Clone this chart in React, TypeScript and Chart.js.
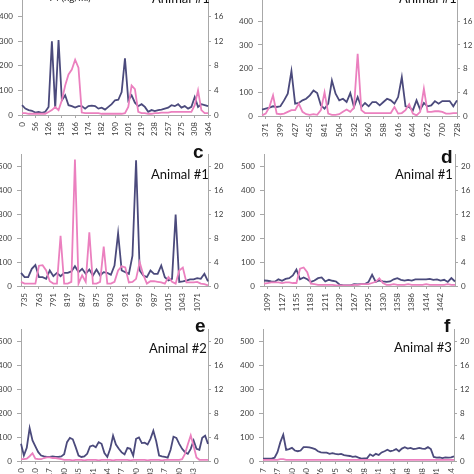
import React, { useEffect, useRef } from "react";
import { Chart, registerables } from "chart.js";
Chart.register(...registerables);

const NAVY = "#4b4a7c";
const PINK = "#eb80bf";
const AXIS = "#a8a8a8";
const TICK_TEXT = "#404040";

// ---------- Panel a (Animal #1) ----------
const aTicks = ["0", "56", "126", "158", "166", "174", "182", "190", "201", "219", "238", "257", "275", "308", "364"];
const aNavy = [40, 26, 20, 17, 10, 13, 9, 13, 33, 300, 26, 305, 60, 80, 40, 36, 30, 36, 36, 26, 36, 38, 36, 26, 30, 22, 33, 44, 60, 62, 93, 231, 60, 80, 50, 36, 44, 33, 13, 20, 16, 20, 22, 26, 30, 40, 36, 44, 30, 36, 26, 33, 73, 33, 44, 40, 36];
const aPink = [0.3, 0.3, 0.2, 0.2, 0.2, 0.2, 0.2, 0.2, 0.5, 0.8, 1.3, 0.8, 2.4, 4.8, 6.6, 7.4, 9.0, 7.7, 0.4, 0.3, 0.3, 0.3, 0.3, 0.3, 0.2, 0.2, 0.2, 0.2, 0.2, 0.2, 0.2, 0.3, 1.3, 4.8, 4.2, 0.5, 0.3, 0.3, 0.2, 0.2, 0.3, 0.3, 0.4, 0.4, 0.4, 0.5, 0.5, 0.5, 0.5, 0.5, 0.5, 0.5, 1.6, 4.0, 0.8, 0.3, 0.3];

// ---------- Panel b (Animal #1) ----------
const bTicks = ["371", "399", "427", "455", "841", "504", "532", "560", "588", "616", "644", "672", "700", "728"];
const bNavy = [27, 31, 35, 41, 38, 41, 66, 94, 190, 52, 55, 66, 73, 87, 108, 97, 45, 31, 52, 150, 94, 66, 73, 59, 97, 38, 80, 38, 55, 41, 59, 59, 45, 59, 73, 66, 52, 80, 164, 41, 38, 24, 66, 27, 55, 41, 45, 63, 52, 63, 63, 63, 41, 66];
const bPink = [0.1, 0.4, 1.5, 3.5, 0.4, 0.3, 0.4, 0.7, 1.0, 1.0, 2.1, 0.7, 0.3, 0.2, 0.3, 0.2, 1.0, 4.0, 0.4, 0.2, 0.2, 0.3, 0.7, 1.1, 0.7, 1.4, 10.5, 1.0, 0.5, 0.5, 0.5, 0.5, 0.5, 0.5, 0.5, 0.5, 1.5, 0.4, 0.5, 1.0, 2.0, 0.4, 0.1, 0.7, 4.6, 0.7, 0.7, 0.8, 0.8, 0.7, 0.4, 0.4, 0.5, 0.5];

// ---------- Panel c (Animal #1) ----------
const cTicks = ["735", "763", "791", "819", "847", "875", "903", "931", "959", "987", "1015", "1043", "1071"];
const cNavy = [55, 37, 37, 72, 88, 37, 37, 30, 65, 41, 55, 41, 55, 55, 61, 83, 58, 72, 51, 69, 44, 69, 44, 58, 55, 47, 86, 221, 65, 58, 51, 127, 527, 65, 44, 37, 65, 51, 51, 86, 37, 23, 30, 300, 17, 19, 23, 28, 28, 33, 30, 51, 19];
const cPink = [0.7, 0.4, 0.4, 0.4, 0.4, 3.4, 3.5, 2.6, 0.8, 0.4, 0.4, 8.4, 0.4, 0.4, 0.7, 21.2, 0.4, 1.8, 0.7, 9.0, 0.4, 0.4, 0.7, 6.6, 0.4, 0.4, 0.7, 2.6, 3.3, 3.1, 0.6, 0.7, 1.2, 4.0, 1.9, 0.4, 0.8, 0.8, 0.7, 0.6, 0.4, 1.5, 0.7, 0.4, 2.6, 3.1, 0.6, 0.6, 0.6, 0.7, 0.4, 0.3, 0.1];

// ---------- Panel d (Animal #1) ----------
const dTicks = ["1099", "1127", "1155", "1183", "1211", "1239", "1267", "1295", "1330", "1358", "1386", "1414", "1442"];
const dNavy = [23, 22, 19, 18, 28, 22, 30, 33, 44, 69, 28, 36, 28, 17, 23, 33, 36, 19, 26, 22, 19, 6, 3, 3, 3, 8, 7, 8, 8, 17, 47, 17, 23, 19, 17, 19, 28, 33, 26, 23, 26, 23, 28, 28, 28, 28, 30, 26, 28, 23, 26, 17, 33, 19];
const dPink = [0.4, 0.5, 0.6, 0.6, 0.6, 0.5, 0.6, 0.6, 0.5, 0.5, 2.9, 3.1, 2.3, 0.4, 0.3, 0.2, 0.2, 0.2, 0.2, 0.2, 0.1, 0.1, 0.1, 0.1, 0.1, 0.2, 0.2, 0.3, 0.3, 0.3, 0.5, 0.7, 1.3, 0.5, 0.2, 0.2, 0.3, 0.2, 0.2, 0.2, 0.3, 0.2, 0.2, 0.2, 0.2, 0.3, 0.2, 0.2, 0.2, 0.2, 0.2, 0.3, 0.2, 0.2];

// ---------- Panel e (Animal #2) ----------
const eTicks = ["0", "10", "17", "30", "45", "51", "64", "77", "90", "103", "117", "130", "143"];
const eNavy = [72, 23, 55, 138, 86, 61, 37, 23, 19, 17, 17, 19, 17, 17, 19, 28, 79, 97, 91, 58, 23, 17, 19, 30, 61, 65, 58, 79, 72, 33, 17, 51, 106, 69, 51, 36, 28, 55, 51, 23, 93, 99, 75, 77, 69, 93, 127, 83, 23, 19, 17, 14, 47, 102, 97, 72, 51, 37, 30, 51, 86, 51, 47, 97, 106, 72];
const ePink = [0.3, 0.3, 0.4, 0.8, 1.3, 0.4, 0.3, 0.3, 0.5, 0.6, 0.6, 0.5, 0.5, 0.4, 0.3, 0.2, 0.2, 0.2, 0.1, 0.2, 0.2, 0.2, 0.1, 0.2, 0.2, 0.2, 0.2, 0.1, 0.2, 0.2, 0.2, 0.2, 0.1, 0.2, 0.2, 0.2, 0.2, 0.2, 0.1, 0.2, 0.2, 0.2, 0.2, 0.2, 0.1, 0.2, 0.2, 0.2, 0.2, 0.1, 0.2, 0.2, 0.2, 0.2, 0.2, 0.2, 0.3, 1.2, 2.8, 4.3, 2.5, 0.6, 0.2, 0.2, 0.2, 0.2];

// ---------- Panel f (Animal #3) ----------
const fTicks = ["7", "27", "40", "60", "76", "95", "116", "128", "141", "154", "168", "188", "201", "214"];
const fNavy = [10, 10, 10, 10, 14, 37, 79, 110, 47, 50, 55, 44, 41, 44, 58, 58, 57, 54, 50, 41, 36, 35, 35, 30, 33, 30, 28, 30, 25, 23, 21, 17, 19, 14, 10, 11, 12, 28, 21, 30, 25, 36, 41, 47, 41, 44, 50, 41, 52, 58, 52, 55, 50, 52, 55, 52, 51, 58, 50, 17, 14, 15, 12, 15, 14, 15, 19];
const fPink = [0.2, 0.2, 0.2, 0.2, 0.2, 0.2, 0.3, 0.3, 0.2, 0.2, 0.2, 0.2, 0.2, 0.2, 0.2, 0.2, 0.2, 0.2, 0.2, 0.2, 0.2, 0.2, 0.2, 0.2, 0.2, 0.2, 0.2, 0.2, 0.2, 0.2, 0.2, 0.2, 0.2, 0.2, 0.2, 0.2, 0.2, 0.2, 0.2, 0.2, 0.2, 0.2, 0.2, 0.2, 0.2, 0.2, 0.2, 0.2, 0.2, 0.2, 0.2, 0.2, 0.2, 0.2, 0.2, 0.2, 0.2, 0.2, 0.2, 0.2, 0.2, 0.2, 0.2, 0.2, 0.2, 0.2, 0.2];

const LEFT_MAX = 550;
const RIGHT_MAX = 22;
const leftTickStep = 100;
const rightTickStep = 4;

function spreadLabels(ticks: string[], count: number, first: number, step: number): string[] {
  const out: string[] = new Array(count).fill("");
  ticks.forEach((t, k) => {
    out[first + k * step] = t;
  });
  return out;
}

type PanelDef = {
  key: string;
  labels: string[];
  navy: number[];
  pink: number[];
  L: number; R: number; T: number; B: number;
};

const panels: PanelDef[] = [
  { key: "a", labels: spreadLabels(aTicks, aNavy.length, 0, 4), navy: aNavy, pink: aPink, L: 22, R: 208, T: -22, B: 115 },
  { key: "b", labels: spreadLabels(bTicks, bNavy.length, 1, 4), navy: bNavy, pink: bPink, L: 262, R: 457, T: -16, B: 116 },
  { key: "c", labels: spreadLabels(cTicks, cNavy.length, 1, 4), navy: cNavy, pink: cPink, L: 21, R: 208, T: 153, B: 286 },
  { key: "d", labels: spreadLabels(dTicks, dNavy.length, 1, 4), navy: dNavy, pink: dPink, L: 264, R: 455, T: 153, B: 286 },
  { key: "e", labels: spreadLabels(eTicks, eNavy.length, 0, 5), navy: eNavy, pink: ePink, L: 21, R: 208, T: 328, B: 461 },
  { key: "f", labels: spreadLabels(fTicks, fNavy.length, 0, 5), navy: fNavy, pink: fPink, L: 263, R: 454, T: 328, B: 461 },
];

const WL = 34;
const WR = 26;
const PAD_T = 8;
const XH = 34;
const TICK_FONT = { family: "Lato, 'Liberation Sans', sans-serif", size: 8 };

function Panel({ p }: { p: PanelDef }) {
  const ref = useRef<HTMLCanvasElement>(null);
  const cw = p.R - p.L + WL + WR;
  const ch = p.B - p.T + PAD_T + XH;
  useEffect(() => {
    if (!ref.current) return;
    const labels = p.labels;
    const chart = new Chart(ref.current, {
      type: "line",
      data: {
        labels,
        datasets: [
          { data: p.pink, yAxisID: "y1", borderColor: PINK, borderWidth: 1.8, pointRadius: 0, tension: 0, order: 0 },
          { data: p.navy, yAxisID: "y", borderColor: NAVY, borderWidth: 1.8, pointRadius: 0, tension: 0, order: 1 },
        ],
      },
      options: {
        responsive: false,
        maintainAspectRatio: false,
        animation: false,
        devicePixelRatio: 1,
        layout: { padding: { top: PAD_T, left: 0, right: 0, bottom: 0 } },
        plugins: { legend: { display: false }, tooltip: { enabled: false }, title: { display: false } },
        scales: {
          x: {
            type: "category",
            offset: false,
            grid: { drawOnChartArea: false, drawTicks: true, tickLength: 3, color: AXIS },
            border: { display: true, color: AXIS, width: 1 },
            ticks: { autoSkip: false, minRotation: 90, maxRotation: 90, padding: 4, color: TICK_TEXT, font: TICK_FONT },
            afterBuildTicks: (scale: any) => {
              scale.ticks = scale.ticks.filter((t: any) => labels[t.value] !== "");
            },
            afterFit: (scale: any) => { scale.height = XH; },
          },
          y: {
            type: "linear",
            position: "left",
            min: 0,
            max: LEFT_MAX,
            grid: { drawOnChartArea: false, drawTicks: true, tickLength: 4, color: AXIS },
            border: { display: true, color: AXIS, width: 1 },
            ticks: { stepSize: leftTickStep, padding: 5, color: TICK_TEXT, font: TICK_FONT },
            afterBuildTicks: (scale: any) => {
              scale.ticks = scale.ticks.filter((t: any) => t.value <= 500);
            },
            afterFit: (scale: any) => { scale.width = WL; },
          },
          y1: {
            type: "linear",
            position: "right",
            min: 0,
            max: RIGHT_MAX,
            grid: { drawOnChartArea: false, drawTicks: true, tickLength: 3, color: AXIS },
            border: { display: true, color: AXIS, width: 1 },
            ticks: { stepSize: rightTickStep, padding: 3, color: TICK_TEXT, font: TICK_FONT },
            afterBuildTicks: (scale: any) => {
              scale.ticks = scale.ticks.filter((t: any) => t.value <= 20);
            },
            afterFit: (scale: any) => { scale.width = WR; },
          },
        },
      } as any,
    });
    return () => chart.destroy();
  }, []);
  return (
    <canvas
      ref={ref}
      width={cw}
      height={ch}
      style={{ position: "absolute", left: p.L - WL, top: p.T - PAD_T, width: cw, height: ch }}
    />
  );
}

type TextDef = { text: string; x: number; baseline: number; size: number; bold?: boolean; sans?: boolean };

const texts: TextDef[] = [
  { text: "T4 (ng/ml)", x: 48, baseline: 1.5, size: 9.5 },
  { text: "Animal #1", x: 152, baseline: 3.5, size: 13 },
  { text: "Animal #1", x: 399, baseline: 3.5, size: 13 },
  { text: "c", x: 193, baseline: 158, size: 19, bold: true, sans: true },
  { text: "Animal #1", x: 151, baseline: 180, size: 13 },
  { text: "d", x: 441, baseline: 163, size: 19, bold: true, sans: true },
  { text: "Animal #1", x: 395, baseline: 180, size: 13 },
  { text: "e", x: 195, baseline: 332, size: 19, bold: true, sans: true },
  { text: "Animal #2", x: 149, baseline: 354, size: 13 },
  { text: "f", x: 444, baseline: 332, size: 19, bold: true, sans: true },
  { text: "Animal #3", x: 394, baseline: 353, size: 13 },
];

function TextLabel({ t }: { t: TextDef }) {
  const k = t.sans ? 0.8465 : 0.887;
  return (
    <div
      style={{
        position: "absolute",
        left: t.x,
        top: t.baseline - t.size * k,
        fontSize: t.size,
        lineHeight: 1,
        fontWeight: t.bold ? 700 : 400,
        fontFamily: t.sans ? "'Liberation Sans', Arial, sans-serif" : "Lato, 'Liberation Sans', sans-serif",
        color: "#111",
        whiteSpace: "nowrap",
      }}
    >
      {t.text}
    </div>
  );
}

export default function App() {
  return (
    <div style={{ position: "absolute", left: 0, top: 0, width: 474, height: 474, overflow: "hidden", background: "#fff" }}>
      {panels.map((p) => (
        <Panel key={p.key} p={p} />
      ))}
      {texts.map((t, i) => (
        <TextLabel key={i} t={t} />
      ))}
    </div>
  );
}
